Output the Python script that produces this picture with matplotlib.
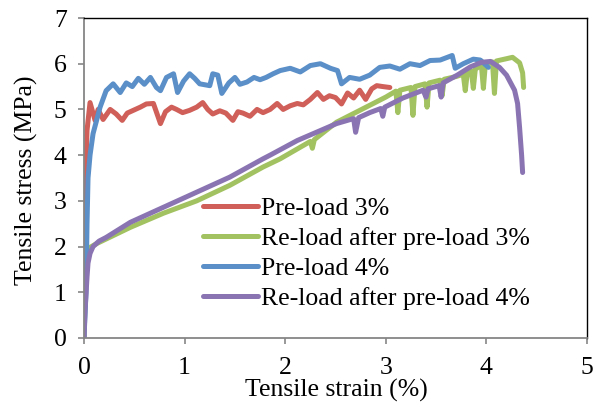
import matplotlib
matplotlib.use('Agg')
import matplotlib.pyplot as plt

plt.rcParams['font.family'] = ['Liberation Serif', 'DejaVu Serif']

# Pre-load 3%
red_x = [0, 0.01, 0.02, 0.03, 0.06, 0.11, 0.14, 0.19, 0.26, 0.32, 0.38, 0.43, 0.49, 0.56,
         0.62, 0.69, 0.76, 0.81, 0.87, 0.92, 0.98, 1.05, 1.12, 1.18, 1.23, 1.28, 1.35, 1.41,
         1.48, 1.53, 1.58, 1.65, 1.72, 1.78, 1.85, 1.92, 1.98, 2.05, 2.12, 2.18, 2.25, 2.32,
         2.38, 2.44, 2.5, 2.56, 2.62, 2.68, 2.74, 2.8, 2.86, 2.91, 2.97, 3.04]
red_y = [0, 2.6, 3.8, 4.54, 5.15, 4.76, 5.0, 4.78, 5.0, 4.9, 4.76, 4.92, 4.98, 5.05,
         5.12, 5.13, 4.69, 4.95, 5.05, 5.0, 4.93, 4.98, 5.05, 5.15, 5.0, 4.9, 4.97, 4.92,
         4.76, 4.95, 4.92, 4.85, 5.0, 4.93, 5.0, 5.13, 5.0, 5.08, 5.13, 5.1, 5.22, 5.37,
         5.22, 5.3, 5.26, 5.12, 5.36, 5.25, 5.42, 5.22, 5.45, 5.52, 5.5, 5.48]

# Re-load after pre-load 3%
green_x = [0, 0.01, 0.02, 0.03, 0.05, 0.13, 0.46, 0.79, 1.12, 1.45, 1.78, 1.95, 2.25, 2.27,
           2.29, 2.51, 2.84, 3.0, 3.1, 3.12, 3.14, 3.25, 3.27, 3.29, 3.39, 3.41, 3.43, 3.54,
           3.56, 3.58, 3.7, 3.77, 3.79, 3.81, 3.85, 3.87, 3.89, 3.95, 3.97, 3.99, 4.06, 4.08,
           4.1, 4.18, 4.26, 4.33, 4.36, 4.37]
green_y = [0, 0.8, 1.5, 1.85, 1.97, 2.07, 2.42, 2.73, 3.0, 3.34, 3.74, 3.92, 4.3, 4.15,
           4.34, 4.72, 5.09, 5.27, 5.4, 4.93, 5.42, 5.48, 4.87, 5.5, 5.56, 5.05, 5.58, 5.64,
           5.3, 5.66, 5.72, 5.77, 5.41, 5.8, 5.84, 5.46, 5.88, 5.97, 5.46, 6.0, 6.04, 5.35,
           6.06, 6.1, 6.14, 6.02, 5.8, 5.48]

# Pre-load 4%
blue_x = [0, 0.02, 0.03, 0.04, 0.06, 0.09, 0.16, 0.22, 0.29, 0.36, 0.42, 0.48, 0.54, 0.6,
          0.66, 0.72, 0.76, 0.82, 0.89, 0.93, 0.99, 1.05, 1.1, 1.15, 1.25, 1.28, 1.33, 1.37,
          1.44, 1.5, 1.55, 1.62, 1.69, 1.75, 1.81, 1.88, 1.95, 2.05, 2.15, 2.25, 2.35, 2.45,
          2.52, 2.56, 2.64, 2.74, 2.84, 2.94, 3.04, 3.14, 3.24, 3.34, 3.44, 3.54, 3.66, 3.69,
          3.77, 3.87, 3.94, 4.02]
blue_y = [0, 1.0, 2.5, 3.5, 4.0, 4.47, 5.05, 5.41, 5.56, 5.37, 5.58, 5.5, 5.68, 5.55,
          5.7, 5.48, 5.41, 5.7, 5.78, 5.37, 5.62, 5.78, 5.68, 5.56, 5.52, 5.78, 5.75, 5.35,
          5.58, 5.7, 5.55, 5.6, 5.7, 5.65, 5.7, 5.78, 5.85, 5.9, 5.82, 5.96, 6.0, 5.9,
          5.85, 5.56, 5.7, 5.66, 5.75, 5.92, 5.95, 5.88, 6.0, 5.96, 6.07, 6.08, 6.18, 5.9,
          6.0, 6.1, 6.08, 5.92]

# Re-load after pre-load 4%
purple_x = [0, 0.01, 0.03, 0.04, 0.06, 0.09, 0.15, 0.22, 0.46, 0.79, 1.12, 1.45, 1.78, 1.85,
            2.12, 2.51, 2.68, 2.7, 2.73, 2.84, 2.95, 2.97, 2.99, 3.17, 3.37, 3.4, 3.42, 3.53,
            3.55, 3.57, 3.71, 3.84, 3.95, 4.04, 4.13, 4.2, 4.28, 4.31, 4.33, 4.35, 4.36]
purple_y = [0, 0.6, 1.33, 1.64, 1.85, 2.0, 2.12, 2.2, 2.53, 2.86, 3.19, 3.52, 3.92, 4.0,
            4.32, 4.69, 4.8, 4.5, 4.82, 4.93, 5.02, 4.85, 5.05, 5.25, 5.42, 5.27, 5.45, 5.52,
            5.27, 5.58, 5.75, 5.93, 6.03, 6.05, 5.92, 5.75, 5.42, 5.13, 4.6, 4.0, 3.62]

labels = ['Pre-load 3%', 'Re-load after pre-load 3%', 'Pre-load 4%', 'Re-load after pre-load 4%']
colors = ['#CF5F58', '#A2C261', '#5A8FC8', '#8A74B2']

fig = plt.figure(figsize=(5.96, 4.05), dpi=100)
ax = fig.add_axes([84/596, 1 - 338/405, 503/596, 320/405])

series = [(red_x, red_y), (green_x, green_y), (blue_x, blue_y), (purple_x, purple_y)]
for (xs, ys), lab, col in zip(series, labels, colors):
    ax.plot(xs, ys, color=col, lw=3.6, label=lab,
            solid_capstyle='round', solid_joinstyle='round')

ax.set_xlim(0, 5)
ax.set_ylim(0, 7)
ax.set_xticks(range(6))
ax.set_yticks(range(8))

for s in ['left', 'bottom']:
    ax.spines[s].set_color('#868686')
    ax.spines[s].set_linewidth(1.3)
for s in ['top', 'right']:
    ax.spines[s].set_color('black')
    ax.spines[s].set_linewidth(1.0)

ax.tick_params(axis='both', direction='out', color='#868686', length=4.5, width=1.2,
               labelsize=18.5)
ax.tick_params(axis='x', pad=9)
ax.tick_params(axis='y', pad=8)

fig.text(336/596, 1 - 390/405, 'Tensile strain (%)', fontsize=18.5, ha='center', va='center')
fig.text(26/596, 1 - 180/405, 'Tensile stress (MPa)', fontsize=18.5, ha='center',
         va='center', rotation=90)

ax.legend(loc='upper left', bbox_to_anchor=(203/596, 1 - 197/405),
          bbox_transform=fig.transFigure, frameon=False, fontsize=18.5,
          handlelength=2.15, handletextpad=0.12, labelspacing=0.27,
          borderpad=0, borderaxespad=0)

fig.savefig('out.png', dpi=100)
